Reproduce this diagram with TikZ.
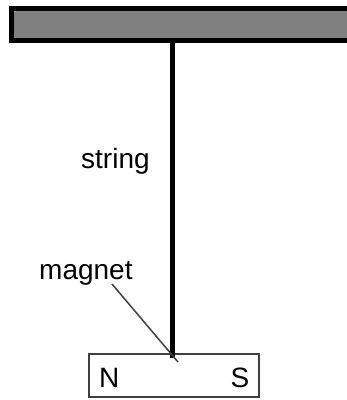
\documentclass[tikz,border=0pt]{standalone}
\usepackage{fontspec}
\setmainfont{Liberation Sans}
\usetikzlibrary{positioning}
\tikzset{bar/.append style={draw=black,fill=gray!100!white,line width=5pt,rectangle,inner sep=0pt}}
\tikzset{mag/.append style={draw=black!75,line width=1.5pt,rectangle,inner sep=0pt,fill=white}}
\tikzset{lbl/.append style={font=\fontsize{28}{31}\selectfont,inner sep=0pt,anchor=base west}}

\begin{document}
\begin{tikzpicture}[x=1pt,y=-1pt]
                \clip (0,0) rectangle (347,400);
                % support and magnet
                \node[bar,minimum width=339pt,minimum height=32pt] (support) at (180.5,24) {};
                \node[mag,minimum width=170pt,minimum height=43pt] (magnet) at (174,375.5) {};
                \coordinate (hook) at (172.5,358);
                \coordinate (tip) at (178,362);
                \coordinate (lead) at (112,284);
                \draw[line width=5pt] (support.south -| hook) ++(0,2pt) -- (hook);
                % labels
                \node[lbl] (n) at (99,387) {N};
                \node[lbl] (s) at (230.5,387) {S};
                \node[lbl] (str) at (81,168) {string};
                \node[lbl] (lab) at (39,279) {magnet};
                \draw[black!75,line width=1.5pt] (lead) -- (tip);
            \end{tikzpicture}
\end{document}
